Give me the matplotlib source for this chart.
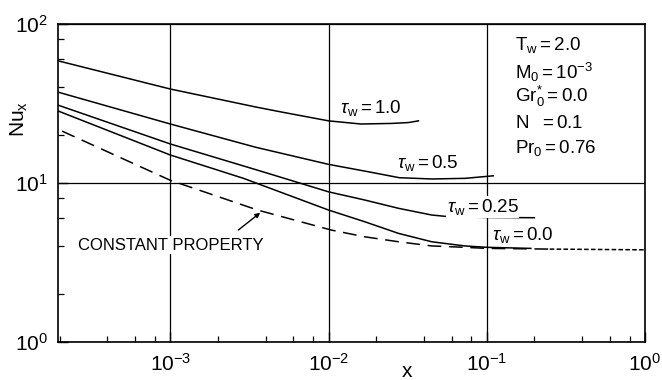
import numpy as np
import matplotlib
matplotlib.use("Agg")
import matplotlib.pyplot as plt
from matplotlib.ticker import LogLocator, NullFormatter

plt.rcParams['font.family'] = ['Liberation Sans', 'DejaVu Sans']
plt.rcParams['mathtext.fontset'] = 'custom'
plt.rcParams['mathtext.rm'] = 'Liberation Sans'
plt.rcParams['mathtext.it'] = 'Liberation Sans:italic'
plt.rcParams['mathtext.bf'] = 'Liberation Sans:bold'
plt.rcParams['axes.unicode_minus'] = False

# local Nusselt number vs axial distance, for several wall values tau_w
x_t10 = [1.95e-4, 1e-3, 3.45e-3, 5e-3, 1e-2, 1.6e-2, 2.5e-2, 3.2e-2, 3.7e-2]
nu_t10 = [58.7, 39.0, 30.1, 28.0, 24.6, 23.5, 23.7, 24.0, 24.6]

x_t05 = [1.95e-4, 1e-3, 3.45e-3, 1e-2, 1.8e-2, 2.8e-2, 4.5e-2, 7.3e-2, 1.1e-1]
nu_t05 = [37.3, 23.5, 16.8, 13.1, 11.75, 10.8, 10.6, 10.7, 11.1]

x_t025 = [1.95e-4, 1e-3, 3.6e-3, 1e-2, 1.69e-2, 2.77e-2, 4.49e-2, 5.75e-2, 1e-1, 2e-1]
nu_t025 = [30.9, 17.6, 12.0, 8.8, 7.82, 6.93, 6.29, 6.14, 6.07, 6.05]

x_t00 = [1.95e-4, 1e-3, 2.9e-3, 1e-2, 1.69e-2, 2.77e-2, 4.49e-2, 7.26e-2, 1e-1, 1.9e-1]
nu_t00 = [28.4, 15.0, 10.7, 6.76, 5.71, 4.82, 4.27, 4.02, 3.94, 3.88]

# constant property solution
x_cp = [2.07e-4, 1e-3, 3.56e-3, 1.04e-2, 1.69e-2, 2.77e-2, 4.49e-2, 7.26e-2, 1e-1, 2.5e-1]
nu_cp = [21.2, 10.4, 6.76, 5.06, 4.59, 4.27, 4.02, 3.94, 3.88, 3.84]
x_cp_tail = [2.5e-1, 1.0]
nu_cp_tail = [3.84, 3.8]

tau_labels = ['1.0', '0.5', '0.25', '0.0']
params = [r'$\mathregular{T_w = 2.0}$',
          r'$\mathregular{M_0 = 10^{-3}}$',
          r'$\mathregular{Gr_0^{*}= 0.0}$',
          r'$\mathregular{N\ \ = 0.1}$',
          r'$\mathregular{Pr_0 = 0.76}$']

fig = plt.figure(figsize=(6.62, 3.8), dpi=100)
ax = fig.add_axes([0.0876, 0.1, 0.8867, 0.8368])
ax.set_xscale('log')
ax.set_yscale('log')
ax.set_xlim(1.95e-4, 1.0)
ax.set_ylim(1.0, 100.0)

lw = 1.1
ax.plot(x_t10, nu_t10, color='k', lw=lw)
ax.plot(x_t05, nu_t05, color='k', lw=lw)
ax.plot(x_t025, nu_t025, color='k', lw=lw)
ax.plot(x_t00, nu_t00, color='k', lw=lw)
ax.plot(x_cp, nu_cp, color='k', lw=lw, dashes=(9, 5))
ax.plot(x_cp_tail, nu_cp_tail, color='k', lw=lw, dashes=(3, 1.5))

# grid only at the decades
ax.grid(True, which='major', color='k', lw=0.9)
ax.set_axisbelow(True)
for s in ax.spines.values():
    s.set_linewidth(1.2)

ax.xaxis.set_major_locator(LogLocator(base=10, numticks=10))
ax.xaxis.set_minor_locator(LogLocator(base=10, subs=(2, 4, 6, 8), numticks=10))
ax.yaxis.set_minor_locator(LogLocator(base=10, subs=(2, 4, 6, 8), numticks=10))
ax.xaxis.set_minor_formatter(NullFormatter())
ax.yaxis.set_minor_formatter(NullFormatter())
ax.tick_params(which='both', direction='in', top=False, right=False, labelsize=15)
ax.tick_params(which='major', length=7, width=1.0)
ax.tick_params(which='minor', length=4, width=0.9)
ax.tick_params(axis='x', which='major', pad=8)
ax.tick_params(axis='y', which='major', pad=7)

ax.set_ylabel(r'$\mathregular{Nu_x}$', fontsize=15)
ax.yaxis.set_label_coords(-0.048, 0.70)
ax.set_xlabel('x', fontsize=15)
ax.xaxis.set_label_coords(0.595, -0.062)

# curve labels
tau_pos = [(1.175e-2, 29.6), (2.69e-2, 13.4), (5.58e-2, 7.07), (1.076e-1, 4.71)]
for lab, (tx, ty) in zip(tau_labels, tau_pos):
    t = ax.text(tx, ty, r'$\tau_{\mathregular{w}}\mathregular{=' + lab + '}$',
                fontsize=13.5, ha='left', va='center')
    if lab == '0.25':
        t.set_bbox(dict(facecolor='white', edgecolor='none', pad=0.5))

param_y = [73.8, 49.9, 34.8, 23.8, 16.6]
for s, py in zip(params, param_y):
    ax.text(0.150, py, s, fontsize=13.5, ha='left', va='center')

ax.text(2.62e-4, 4.07, 'CONSTANT PROPERTY', fontsize=12, ha='left', va='center',
        bbox=dict(facecolor='white', edgecolor='none', pad=1))
ax.annotate('', xy=(3.7e-3, 6.5), xytext=(2.69e-3, 5.06),
            arrowprops=dict(arrowstyle='-|>', color='k', lw=1.0,
                            mutation_scale=7, shrinkA=0, shrinkB=0))

fig.savefig('out.png', dpi=100)
